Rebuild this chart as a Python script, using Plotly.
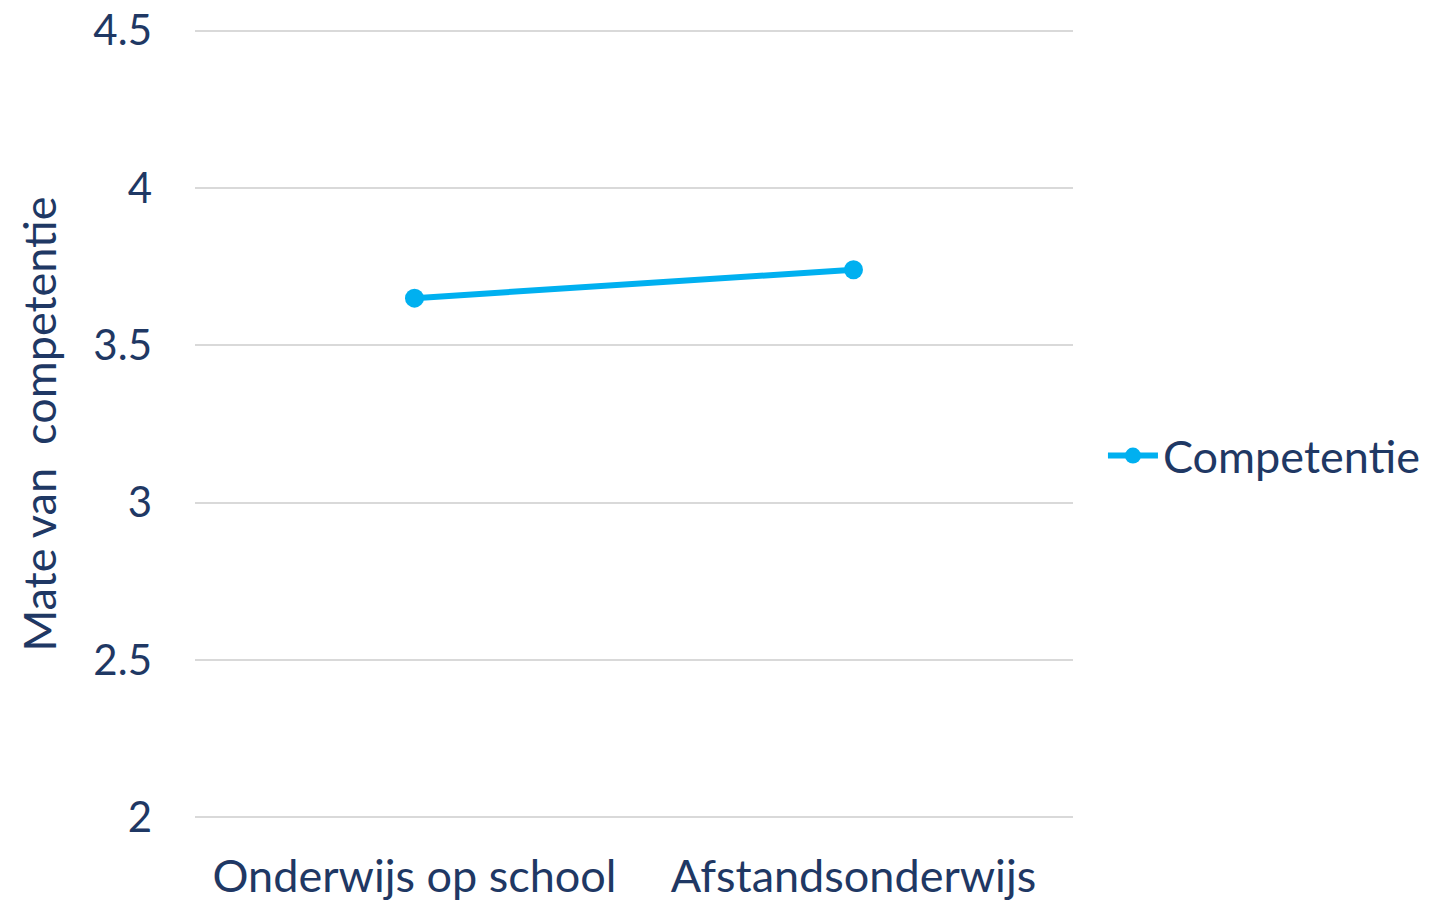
import plotly.graph_objects as go

categories = ["Onderwijs op school", "Afstandsonderwijs"]
competentie = [3.65, 3.74]
y_ticks = [2, 2.5, 3, 3.5, 4, 4.5]
y_tick_labels = ["2", "2.5", "3", "3.5", "4", "4.5"]

TEXT = "#1F3864"
LINE = "#00B0F0"
FONT = "Lato"

fig = go.Figure()
fig.add_trace(go.Scatter(
    x=categories, y=competentie, mode="lines+markers", name="Competentie",
    line=dict(color=LINE, width=6),
    marker=dict(color=LINE, size=19),
))

fig.update_layout(
    width=1438, height=906,
    margin=dict(l=195, r=365, t=26, b=84),
    paper_bgcolor="white", plot_bgcolor="white",
    font=dict(family=FONT, color=TEXT),
    showlegend=True,
    legend=dict(x=1.402, y=0.46, xanchor="right", yanchor="middle",
                font=dict(size=45, color=TEXT, family=FONT),
                bgcolor="rgba(0,0,0,0)", itemwidth=50),
    xaxis=dict(type="category", range=[-0.5, 1.5], automargin=False,
               showgrid=False, zeroline=False, showline=False,
               tickfont=dict(size=45, color=TEXT, family=FONT),
               ticks="", ticklabelstandoff=24, ticklabeloverflow="allow"),
    yaxis=dict(range=[1.985, 4.515], tickvals=y_ticks, ticktext=y_tick_labels,
               automargin=False, ticklabeloverflow="allow",
               showgrid=True, gridcolor="#D9D9D9", gridwidth=2,
               zeroline=False, showline=False,
               tickfont=dict(size=42, color=TEXT, family=FONT),
               ticks="", ticklabelstandoff=42,
               title=dict(text="Mate van  competentie",
                          font=dict(size=45, color=TEXT, family=FONT),
                          standoff=22)),
)

fig.write_html("out.html", config={"displayModeBar": False},
               post_script="document.body.style.margin='0';document.body.style.overflow='hidden';")
